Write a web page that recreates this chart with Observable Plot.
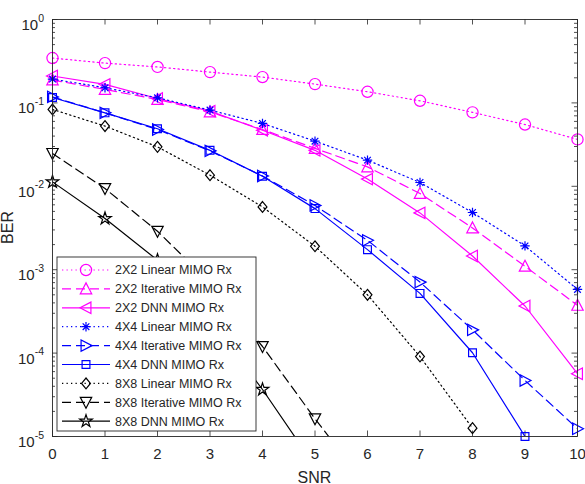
<!DOCTYPE html>
<html><head><meta charset="utf-8">
<script src="https://cdn.jsdelivr.net/npm/d3@7"></script>
<script src="https://cdn.jsdelivr.net/npm/@observablehq/plot@0.6"></script>
<style>html,body{margin:0;padding:0;background:#fff}#chart{width:585px;height:484px}</style>
</head><body><div id="chart"></div>
<script>
// ---- data ----
const snr = [0, 1, 2, 3, 4, 5, 6, 7, 8, 9, 10];
const ber2x2Linear    = [0.345, 0.30, 0.27, 0.234, 0.204, 0.168, 0.136, 0.106, 0.077, 0.055, 0.0365];
const ber2x2Iterative = [0.188, 0.145, 0.110, 0.078, 0.048, 0.0285, 0.0171, 0.0082, 0.00317, 0.0011, 0.000374];
const ber2x2DNN       = [0.21, 0.167, 0.113, 0.0797, 0.047, 0.027, 0.0122, 0.0048, 0.00146, 0.000367, 0.0000566];
const ber4x4Linear    = [0.193, 0.152, 0.115, 0.082, 0.0567, 0.0348, 0.0206, 0.0111, 0.00485, 0.00193, 0.00058];
const ber4x4Iterative = [0.118, 0.076, 0.048, 0.0266, 0.0133, 0.0059, 0.00225, 0.00071, 0.00019, 0.000047, 0.0000124];
const ber4x4DNN       = [0.116, 0.076, 0.049, 0.027, 0.0132, 0.0054, 0.00174, 0.00052, 0.000101, 0.00001, null];
const ber8x8Linear    = [0.0835, 0.0527, 0.0297, 0.0136, 0.00566, 0.00191, 0.0005, 0.000091, 0.0000126, null, null];
const ber8x8Iterative = [0.0248, 0.0094, 0.00289, 0.0007, 0.00012, 0.0000163, 0.0000025, null, null, null, null];
const ber8x8DNN       = [0.0113, 0.0041, 0.0013, 0.00025, 0.0000366, 0.0000044, null, null, null, null, null];
const seriesNames = ["2X2 Linear MIMO Rx", "2X2 Iterative MIMO Rx", "2X2 DNN MIMO Rx",
  "4X4 Linear MIMO Rx", "4X4 Iterative MIMO Rx", "4X4 DNN MIMO Rx",
  "8X8 Linear MIMO Rx", "8X8 Iterative MIMO Rx", "8X8 DNN MIMO Rx"];
const seriesValues = [ber2x2Linear, ber2x2Iterative, ber2x2DNN, ber4x4Linear, ber4x4Iterative, ber4x4DNN,
  ber8x8Linear, ber8x8Iterative, ber8x8DNN];
const xTicks = [0, 1, 2, 3, 4, 5, 6, 7, 8, 9, 10];
const yExponents = [0, -1, -2, -3, -4, -5];
const xLabel = "SNR";
const yLabel = "BER";

// ---- symbols ----
function poly(pts, rot) {
  const a = rot * Math.PI / 180, c = Math.cos(a), s = Math.sin(a);
  return {draw(ctx, size) {
    const r = Math.sqrt(size / Math.PI);
    pts.forEach(([x, y], i) => {
      const px = (x * c - y * s) * r, py = (x * s + y * c) * r;
      i ? ctx.lineTo(px, py) : ctx.moveTo(px, py);
    });
    ctx.closePath();
  }};
}
const tri = [[0, -1], [0.95, 0.82], [-0.95, 0.82]];
const SYM = {
  circle: {draw(ctx, size) { const r = Math.sqrt(size / Math.PI); ctx.moveTo(r, 0); ctx.arc(0, 0, r, 0, 2 * Math.PI); ctx.closePath(); }},
  triUp: poly(tri, 0), triLeft: poly(tri, -90), triRight: poly(tri, 90), triDown: poly(tri, 180),
  square: poly([[-0.71, -0.71], [0.71, -0.71], [0.71, 0.71], [-0.71, 0.71]], 0),
  diamond: poly([[0, -1], [0.82, 0], [0, 1], [-0.82, 0]], 0),
  asterisk: {draw(ctx, size) {
    const r = Math.sqrt(size / Math.PI), d = r * 0.7071;
    ctx.moveTo(-r, 0); ctx.lineTo(r, 0); ctx.moveTo(0, -r); ctx.lineTo(0, r);
    ctx.moveTo(-d, -d); ctx.lineTo(d, d); ctx.moveTo(-d, d); ctx.lineTo(d, -d);
  }},
  star: {draw(ctx, size) {
    const R = Math.sqrt(size / Math.PI), ri = R * 0.382;
    for (let i = 0; i < 10; i++) {
      const rr = i % 2 ? ri : R, a = -Math.PI / 2 + i * Math.PI / 5;
      i ? ctx.lineTo(rr * Math.cos(a), rr * Math.sin(a)) : ctx.moveTo(rr * Math.cos(a), rr * Math.sin(a));
    }
    ctx.closePath();
  }}
};
const DASH = {dotted: "1.3,3.2", dashed: "9,5", solid: null};
const styles = [
  {color: "#ff00ff", dash: "dotted", marker: "circle", r: 5.6},
  {color: "#ff00ff", dash: "dashed", marker: "triUp", r: 6},
  {color: "#ff00ff", dash: "solid", marker: "triLeft", r: 6},
  {color: "#0000ff", dash: "dotted", marker: "asterisk", r: 4.7},
  {color: "#0000ff", dash: "dashed", marker: "triRight", r: 6},
  {color: "#0000ff", dash: "solid", marker: "square", r: 5.5},
  {color: "#000000", dash: "dotted", marker: "diamond", r: 5.4},
  {color: "#000000", dash: "dashed", marker: "triDown", r: 6},
  {color: "#000000", dash: "solid", marker: "star", r: 6.6}
];

// ---- layout ----
const W = 585, H = 484, ML = 52, MR = 8, MT = 19, MB = 48;
const PW = W - ML - MR, PH = H - MT - MB;
const AX = "#262626";
const FONT = "'Liberation Sans', Arial, Helvetica, sans-serif";

const rows = [];
seriesNames.forEach((name, si) => seriesValues[si].forEach((v, i) => {
  if (v != null) rows.push({series: name, si, snr: snr[i], ber: v});
}));
const minorVals = [];
yExponents.slice(1).forEach(e => { for (let m = 2; m <= 9; m++) minorVals.push(m * 10 ** e); });
const majorVals = yExponents.map(e => 10 ** e);

const marks = [];
seriesNames.forEach((name, si) => {
  const st = styles[si];
  const data = rows.filter(d => d.si === si);
  marks.push(Plot.line(data, {x: "snr", y: "ber", stroke: st.color, strokeWidth: 1.2,
    strokeDasharray: DASH[st.dash], clip: true}));
  marks.push(Plot.dot(data.filter(d => d.ber >= 0.99999e-5), {x: "snr", y: "ber", symbol: SYM[st.marker],
    r: st.r, stroke: st.color, fill: "none", strokeWidth: 1.2}));
});

const tickMarks = [
  Plot.ruleX(xTicks, {x: d => d, insetTop: PH - 5.5, stroke: AX, strokeWidth: 0.8}),
  Plot.ruleX(xTicks, {x: d => d, insetBottom: PH - 5.5, stroke: AX, strokeWidth: 0.8}),
  Plot.ruleY(majorVals, {y: d => d, insetRight: PW - 5.5, stroke: AX, strokeWidth: 0.8}),
  Plot.ruleY(majorVals, {y: d => d, insetLeft: PW - 5.5, stroke: AX, strokeWidth: 0.8}),
  Plot.ruleY(minorVals, {y: d => d, insetRight: PW - 3, stroke: AX, strokeWidth: 0.8}),
  Plot.ruleY(minorVals, {y: d => d, insetLeft: PW - 3, stroke: AX, strokeWidth: 0.8})
];

const plot = Plot.plot({
  width: W, height: H, marginLeft: ML, marginRight: MR, marginTop: MT, marginBottom: MB,
  style: {fontFamily: FONT, fontSize: "15px", color: AX, background: "#fff"},
  x: {domain: [0, 10], label: null},
  y: {type: "log", domain: [1e-5, 1], label: null, axis: null},
  marks: [
    ...tickMarks,
    Plot.axisX(xTicks, {tickSize: 0, tickPadding: 12, label: null, fontSize: 15, fill: AX}),
    ...marks,
    Plot.frame({stroke: AX, strokeWidth: 0.9})
  ]
});
document.getElementById("chart").appendChild(plot);

// ---- y tick labels (10^k) ----
const svg = d3.select(plot);
const ys = plot.scale("y");
const gy = svg.append("g").attr("font-family", FONT).attr("fill", AX);
yExponents.forEach(e => {
  const ty = ys.apply(10 ** e);
  const t = gy.append("text").attr("x", ML - 8).attr("y", ty + 11).attr("text-anchor", "end");
  t.append("tspan").attr("font-size", 15).text("10");
  t.append("tspan").attr("font-size", 10.5).attr("dy", -8.5).text(String(e));
});

// axis titles
svg.append("text").attr("x", ML + PW / 2).attr("y", H - 1.5).attr("text-anchor", "middle")
  .attr("font-family", FONT).attr("font-size", 16).attr("fill", AX).text(xLabel);
svg.append("text").attr("transform", `translate(${12.5},${MT + PH / 2}) rotate(-90)`).attr("text-anchor", "middle")
  .attr("font-family", FONT).attr("font-size", 16).attr("fill", AX).text(yLabel);

// ---- legend ----
const LX = 57, LY = 257, LW = 199, LH = 174, rowH = 18.9, row0 = 270;
const lg = svg.append("g");
lg.append("rect").attr("x", LX).attr("y", LY).attr("width", LW).attr("height", LH)
  .attr("fill", "#fff").attr("stroke", AX).attr("stroke-width", 0.9);
seriesNames.forEach((name, si) => {
  const st = styles[si], y = row0 + si * rowH;
  lg.append("line").attr("x1", 62).attr("x2", 110).attr("y1", y).attr("y2", y)
    .attr("stroke", st.color).attr("stroke-width", 1.2).attr("stroke-dasharray", DASH[st.dash]);
  lg.append("path").attr("transform", `translate(86,${y})`)
    .attr("d", d3.symbol(SYM[st.marker], st.r * st.r * Math.PI)())
    .attr("fill", "none").attr("stroke", st.color).attr("stroke-width", 1.2);
  lg.append("text").attr("x", 115).attr("y", y).attr("dy", "0.35em").attr("text-anchor", "start")
    .attr("font-family", FONT).attr("font-size", 12.5).attr("fill", AX).text(name);
});
</script>
</body></html>
